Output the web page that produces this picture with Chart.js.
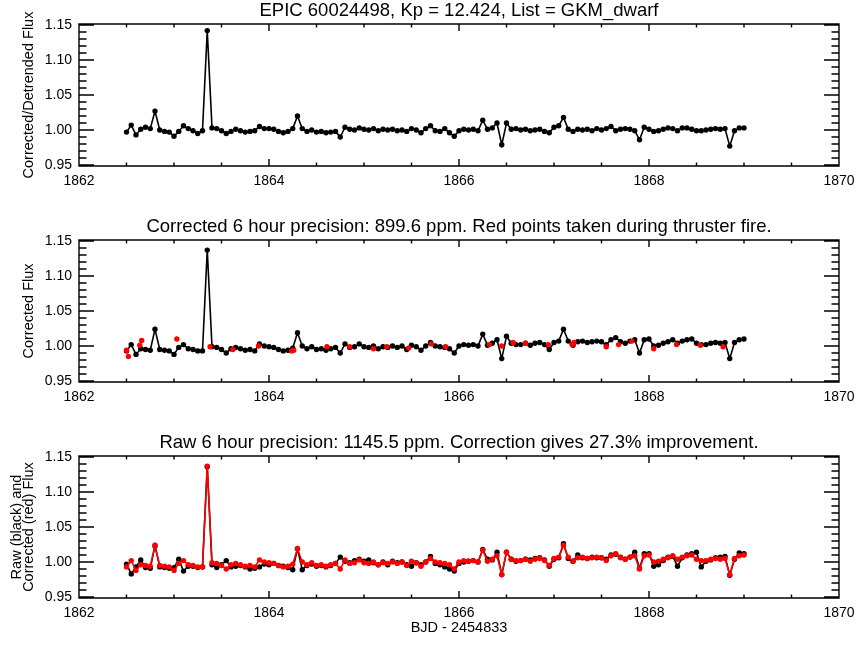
<!DOCTYPE html>
<html>
<head>
<meta charset="utf-8">
<title>EPIC 60024498</title>
<script src="https://cdn.jsdelivr.net/npm/chart.js@4.4.1/dist/chart.umd.min.js"></script>
<style>
  body { margin: 0; background: #fff; }
  #wrap { position: relative; width: 864px; height: 648px; }
  canvas { position: absolute; left: 0; }
</style>
</head>
<body>
<div id="wrap">
  <canvas id="panel1" width="864" height="216" style="top:0px"></canvas>
  <canvas id="panel2" width="864" height="216" style="top:216px"></canvas>
  <canvas id="panel3" width="864" height="216" style="top:432px"></canvas>
</div>
<script>
// time stamps, BJD - 2454833
var bjd = [
  1862.50,1862.55,1862.60,1862.65,1862.70,1862.75,1862.80,1862.85,1862.90,1862.95,
  1863.00,1863.05,1863.10,1863.15,1863.20,1863.25,1863.30,1863.35,1863.40,1863.45,
  1863.50,1863.55,1863.60,1863.65,1863.70,1863.75,1863.80,1863.85,1863.90,1863.95,
  1864.00,1864.05,1864.10,1864.15,1864.20,1864.25,1864.30,1864.35,1864.40,1864.45,
  1864.50,1864.55,1864.60,1864.65,1864.70,1864.75,1864.80,1864.85,1864.90,1864.95,
  1865.00,1865.05,1865.10,1865.15,1865.20,1865.25,1865.30,1865.35,1865.40,1865.45,
  1865.50,1865.55,1865.60,1865.65,1865.70,1865.75,1865.80,1865.85,1865.90,1865.95,
  1866.00,1866.05,1866.10,1866.15,1866.20,1866.25,1866.30,1866.35,1866.40,1866.45,
  1866.50,1866.55,1866.60,1866.65,1866.70,1866.75,1866.80,1866.85,1866.90,1866.95,
  1867.00,1867.05,1867.10,1867.15,1867.20,1867.25,1867.30,1867.35,1867.40,1867.45,
  1867.50,1867.55,1867.60,1867.65,1867.70,1867.75,1867.80,1867.85,1867.90,1867.95,
  1868.00,1868.05,1868.10,1868.15,1868.20,1868.25,1868.30,1868.35,1868.40,1868.45,
  1868.50,1868.55,1868.60,1868.65,1868.70,1868.75,1868.80,1868.85,1868.90,1868.95,
  1869.00
];

// corrected / detrended flux (top panel)
var detrended = [
  0.997,1.007,0.993,1.001,1.004,1.002,1.027,1.000,0.998,0.997,
  0.991,0.998,1.006,1.002,0.999,0.995,0.999,1.142,1.003,1.002,
  0.999,0.995,0.998,1.001,0.999,0.997,0.998,0.999,1.005,1.002,
  1.002,1.001,0.998,0.996,0.998,1.002,1.020,1.002,0.998,1.000,
  0.997,0.998,0.996,0.997,0.998,0.990,1.004,1.001,1.000,1.003,
  1.001,1.000,1.002,0.999,1.001,1.000,1.001,0.999,1.000,0.998,
  1.002,1.000,0.996,1.002,1.006,0.999,0.998,1.002,0.996,0.991,
  0.999,1.001,1.000,1.001,0.999,1.014,1.001,1.003,1.010,0.979,
  1.010,1.001,1.002,1.000,1.001,0.999,1.000,1.001,0.998,0.996,
  1.004,1.006,1.018,1.001,0.998,1.001,1.000,1.001,0.999,1.002,
  1.000,1.002,1.005,0.999,1.001,1.002,1.001,0.999,0.986,1.004,
  1.001,0.998,0.999,1.001,1.003,1.002,0.999,1.003,1.003,1.001,
  0.999,0.999,1.000,1.001,1.002,1.001,1.002,0.977,0.999,1.003,
  1.003
];

// corrected flux (middle panel, red line of bottom panel)
var corrected = [
  0.993,1.002,0.988,0.996,0.995,0.994,1.024,0.995,0.994,0.993,
  0.988,0.998,1.002,0.996,0.995,0.993,0.993,1.137,0.999,0.998,
  0.995,0.990,0.996,0.998,0.996,0.994,0.995,0.993,1.003,1.000,
  0.999,0.998,0.995,0.993,0.994,0.997,1.019,1.000,0.996,0.999,
  0.995,0.996,0.994,0.996,0.998,0.990,1.003,0.998,0.999,1.003,
  0.999,0.998,1.000,0.996,0.999,0.998,1.000,0.998,1.000,0.995,
  1.001,0.999,0.994,1.000,1.005,1.000,0.999,0.998,0.996,0.990,
  1.000,1.002,1.001,1.002,1.000,1.017,1.001,1.004,1.009,0.982,
  1.014,1.004,1.002,1.002,1.004,1.001,1.004,1.005,1.002,0.995,
  1.005,1.007,1.024,1.007,1.001,1.006,1.007,1.005,1.006,1.007,
  1.006,1.002,1.009,1.012,1.006,1.004,1.007,1.009,0.990,1.009,
  1.010,1.000,1.001,1.004,1.006,1.009,1.004,1.007,1.009,1.010,
  1.004,1.002,1.002,1.004,1.005,1.004,1.005,0.982,1.005,1.009,
  1.010
];

// raw flux (black, bottom panel)
var raw = [
  0.997,0.983,0.993,1.003,0.992,0.991,1.023,0.993,0.992,0.991,
  0.992,1.004,0.987,0.994,0.994,0.992,0.993,1.136,0.996,0.992,
  0.996,1.002,0.993,0.994,0.995,0.993,0.990,0.991,0.993,0.997,
  0.996,0.998,0.995,0.994,0.992,0.989,1.019,0.989,0.995,0.997,
  0.994,0.995,0.993,0.995,0.998,1.007,1.001,0.999,1.002,1.004,
  1.001,1.003,0.999,0.996,1.000,0.996,1.001,0.999,1.000,0.996,
  0.994,0.999,0.996,1.000,1.008,0.998,0.996,0.993,0.990,0.987,
  0.998,1.000,1.001,1.002,1.000,1.018,1.004,1.003,1.014,0.982,
  1.014,1.004,1.001,1.002,1.004,1.003,1.005,1.006,1.003,0.994,
  1.004,1.006,1.026,1.005,1.001,1.010,1.006,1.005,1.007,1.006,
  1.006,1.004,1.010,1.011,1.007,1.004,1.007,1.014,0.991,1.012,
  1.012,0.994,0.996,1.002,1.007,1.008,0.994,1.006,1.010,1.012,
  1.014,0.993,1.001,1.003,1.006,1.007,1.008,0.981,1.004,1.013,
  1.012
];

// points taken during thruster fire (red, middle panel)
var thrusterBjd = [
  1862.50,1862.52,1862.64,1862.66,1863.03,1863.38,1863.62,1863.89,1864.24,1864.26,
  1864.61,1864.85,1865.10,1865.24,1865.47,1865.71,1865.86,1866.32,1866.45,1866.57,
  1866.70,1866.94,1867.19,1867.21,1867.55,1867.68,1867.82,1868.05,1868.29,1868.54,
  1868.78
];
var thrusterFlux = [
  0.994,0.985,1.001,1.008,1.010,0.999,0.995,1.000,0.993,0.994,
  0.999,0.999,0.996,0.999,0.997,1.003,0.999,1.002,1.000,1.005,
  1.004,1.002,1.002,1.005,0.999,1.002,1.007,0.996,1.002,1.001,
  0.999
];

var xTicks = [1862, 1864, 1866, 1868, 1870];
var yTicks = [0.95, 1.00, 1.05, 1.10, 1.15];
var xMinorStep = 0.5;
var yMinorStep = 0.01;

Chart.defaults.font.family = "'Liberation Sans', Arial, Helvetica, sans-serif";
Chart.defaults.color = '#000';

function pts(xs, ys) {
  return xs.map(function (x, i) { return { x: x, y: ys[i] }; });
}

function series(xs, ys, colour, line) {
  return {
    data: pts(xs, ys),
    showLine: line,
    borderColor: colour,
    borderWidth: 1.6,
    pointRadius: 2.7,
    pointBorderWidth: 0,
    pointBackgroundColor: colour
  };
}

// closed box with inward ticks on all four sides
var idlFrame = {
  id: 'idlFrame',
  afterDatasetsDraw: function (chart) {
    var ctx = chart.ctx, a = chart.chartArea;
    var xs = chart.scales.x, ys = chart.scales.y;
    var i, p, len, n;
    ctx.save();
    ctx.strokeStyle = '#000';
    ctx.lineWidth = 1.4;
    ctx.beginPath();
    ctx.rect(a.left, a.top, a.right - a.left, a.bottom - a.top);
    n = Math.round((xTicks[xTicks.length - 1] - xTicks[0]) / xMinorStep);
    for (i = 0; i <= n; i++) {
      p = xs.getPixelForValue(xTicks[0] + i * xMinorStep);
      len = i % 4 === 0 ? 7 : 3.5;
      ctx.moveTo(p, a.bottom); ctx.lineTo(p, a.bottom - len);
      ctx.moveTo(p, a.top); ctx.lineTo(p, a.top + len);
    }
    n = Math.round((yTicks[yTicks.length - 1] - yTicks[0]) / yMinorStep);
    for (i = 0; i <= n; i++) {
      p = ys.getPixelForValue(yTicks[0] + i * yMinorStep);
      len = i % 5 === 0 ? 15 : 7.5;
      ctx.moveTo(a.left, p); ctx.lineTo(a.left + len, p);
      ctx.moveTo(a.right, p); ctx.lineTo(a.right - len, p);
    }
    ctx.stroke();
    ctx.restore();
  }
};

function makePanel(id, datasets, title, yTitle, yTitleFont, yTitlePad, xTitle) {
  return new Chart(document.getElementById(id), {
    type: 'scatter',
    data: { datasets: datasets },
    options: {
      responsive: false,
      animation: false,
      events: [],
      layout: { padding: { left: 0, right: 25, top: 0, bottom: 0 } },
      plugins: {
        legend: { display: false },
        tooltip: { enabled: false },
        title: {
          display: true,
          text: title,
          fullSize: false,
          color: '#000',
          font: { size: 18.5, weight: 'normal' },
          padding: { top: 0.2, bottom: 1.6 }
        }
      },
      scales: {
        x: {
          type: 'linear',
          min: xTicks[0],
          max: xTicks[xTicks.length - 1],
          grid: { display: false, drawTicks: false },
          border: { display: false },
          afterBuildTicks: function (s) { s.ticks = xTicks.map(function (v) { return { value: v }; }); },
          afterFit: function (s) { s.height = 50; },
          ticks: {
            font: { size: 14 },
            padding: 7,
            maxRotation: 0,
            autoSkip: false,
            callback: function (v) { return String(v); }
          },
          title: {
            display: !!xTitle,
            text: xTitle || '',
            font: { size: 14.5 },
            padding: { top: 0, bottom: 11.8 }
          }
        },
        y: {
          min: 0.9486,
          max: 1.1514,
          grid: { display: false, drawTicks: false },
          border: { display: false },
          afterBuildTicks: function (s) { s.ticks = yTicks.map(function (v) { return { value: v }; }); },
          afterFit: function (s) { s.width = 79; },
          ticks: {
            font: { size: 14 },
            padding: 7,
            callback: function (v) { return v.toFixed(2); }
          },
          title: {
            display: true,
            text: yTitle,
            font: yTitleFont,
            padding: { top: yTitlePad, bottom: 0 }
          }
        }
      }
    },
    plugins: [idlFrame]
  });
}

makePanel('panel1',
  [series(bjd, detrended, '#000000', true)],
  'EPIC 60024498, Kp = 12.424, List = GKM_dwarf',
  'Corrected/Detrended Flux', { size: 14.5, lineHeight: 1.2 }, 20.6);

makePanel('panel2',
  [series(thrusterBjd, thrusterFlux, '#ff0000', false),
   series(bjd, corrected, '#000000', true)],
  'Corrected 6 hour precision: 899.6 ppm. Red points taken during thruster fire.',
  'Corrected Flux', { size: 14.5, lineHeight: 1.2 }, 20.6);

makePanel('panel3',
  [series(bjd, corrected, '#ff0000', true),
   series(bjd, raw, '#000000', true)],
  'Raw 6 hour precision: 1145.5 ppm. Correction gives 27.3% improvement.',
  ['Raw (black) and', 'Corrected (red) Flux'], { size: 14.5, lineHeight: 0.82 }, 11.5,
  'BJD - 2454833');
</script>
</body>
</html>
